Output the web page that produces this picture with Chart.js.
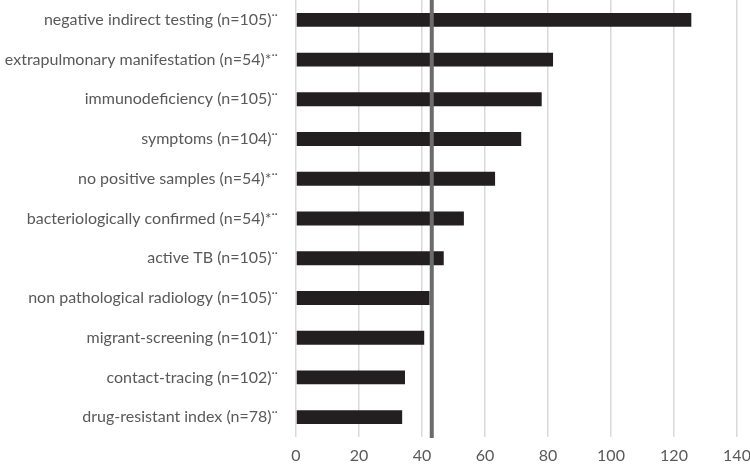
<!DOCTYPE html>
<html>
<head>
<meta charset="utf-8">
<script src="https://cdn.jsdelivr.net/npm/chart.js@4"></script>
<style>
  html, body { margin: 0; padding: 0; background: #fff; }
  #wrap { width: 750px; height: 470px; }
</style>
</head>
<body>
<div id="wrap"><canvas id="tbChart"></canvas></div>
<script>
const categories = [
  "negative indirect testing (n=105)\u00a8",
  "extrapulmonary manifestation (n=54)*\u00a8",
  "immunodeficiency (n=105)\u00a8",
  "symptoms (n=104)\u00a8",
  "no positive samples (n=54)*\u00a8",
  "bacteriologically confirmed (n=54)*\u00a8",
  "active TB (n=105)\u00a8",
  "non pathological radiology (n=105)\u00a8",
  "migrant-screening (n=101)\u00a8",
  "contact-tracing (n=102)\u00a8",
  "drug-resistant index (n=78)\u00a8"
];
const values = [125.5, 81.6, 78.0, 71.5, 63.2, 53.3, 46.9, 42.4, 40.7, 34.6, 33.7];
const referenceValue = 43.1;
const xTicks = [0, 20, 40, 60, 80, 100, 120, 140];

// vertical reference line, placed via the x scale
const refLine = {
  id: "refLine",
  afterDatasetsDraw(chart) {
    const x = chart.scales.x.getPixelForValue(referenceValue);
    const ctx = chart.ctx;
    ctx.save();
    ctx.strokeStyle = "#6b6b6b";
    ctx.lineWidth = 4;
    ctx.beginPath();
    ctx.moveTo(x, chart.chartArea.top);
    ctx.lineTo(x, chart.chartArea.bottom + 1);
    ctx.stroke();
    ctx.restore();
  }
};

const ctx = document.getElementById("tbChart").getContext("2d");

new Chart(ctx, {
  type: "bar",
  data: {
    labels: categories,
    datasets: [{
      data: values,
      backgroundColor: "#231f20",
      barPercentage: 0.35,
      categoryPercentage: 1
    }]
  },
  options: {
    indexAxis: "y",
    responsive: true,
    maintainAspectRatio: false,
    animation: false,
    layout: { padding: { top: 0, right: 13, left: 0, bottom: 0 } },
    plugins: {
      legend: { display: false },
      tooltip: { enabled: false }
    },
    scales: {
      x: {
        min: 0,
        max: 140,
        afterBuildTicks(scale) {
          scale.ticks = xTicks.map(v => ({ value: v }));
        },
        afterFit(scale) {
          scale.height = 33;
          scale.paddingLeft = 0;
          scale.paddingRight = 0;
        },
        grid: { color: "#d9d9d9", lineWidth: 1.5, drawTicks: false },
        border: { display: false },
        ticks: {
          color: "#595959",
          padding: 9,
          font: { family: "Lato", size: 16 }
        }
      },
      y: {
        afterFit(scale) {
          scale.width = 296;
          scale.paddingTop = 0;
          scale.paddingBottom = 0;
        },
        grid: { display: false },
        border: { display: false },
        ticks: {
          color: "#595959",
          padding: 10,
          font: { family: "Lato", size: 16 }
        }
      }
    }
  },
  plugins: [refLine]
});
</script>
</body>
</html>
